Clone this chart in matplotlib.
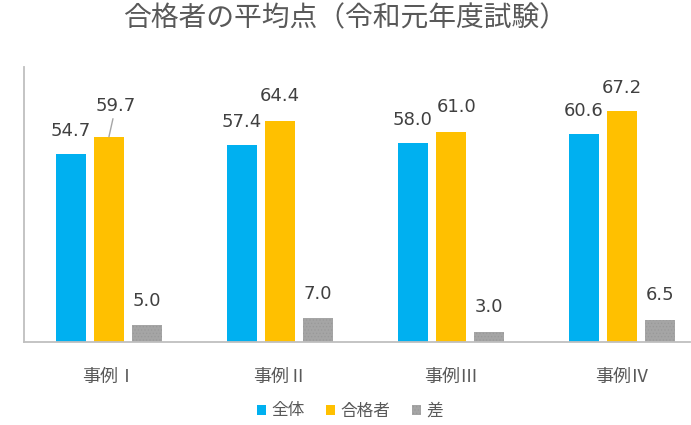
import matplotlib.pyplot as plt
import numpy as np
from matplotlib.patches import Patch

plt.rcParams['font.family'] = ['Noto Sans CJK JP', 'DejaVu Sans']
plt.rcParams['hatch.linewidth'] = 0.5

# データ
categories = ['事例Ⅰ', '事例Ⅱ', '事例Ⅲ', '事例Ⅳ']
series_names = ['全体', '合格者', '差']
zentai = [54.7, 57.4, 58.0, 60.6]
goukaku = [59.7, 64.4, 61.0, 67.2]
sa = [5.0, 7.0, 3.0, 6.5]

colors = ['#00B0F0', '#FFC000', '#A5A5A5']
text_gray = '#595959'
num_gray = '#404040'

fig = plt.figure(figsize=(6.91, 4.25), dpi=100)
ax = fig.add_axes([24 / 691, 83 / 425, 666 / 691, 275 / 425])

x = np.arange(len(categories))
w = 0.175
off = 0.222

b1 = ax.bar(x - off, zentai, w, color=colors[0], linewidth=0)
b2 = ax.bar(x, goukaku, w, color=colors[1], linewidth=0)
b3 = ax.bar(x + off, sa, w, color=colors[2], edgecolor='#999999',
            hatch='.....', linewidth=0)

ax.set_xlim(-0.497, 3.4)
ax.set_ylim(0, 80)

# データラベル
def label(xpos, val, dx=0, dy=10, leader=False):
    kw = dict(textcoords='offset points', ha='center', va='bottom',
              fontsize=13, color=num_gray, family=['DejaVu Sans'])
    if leader:
        kw['arrowprops'] = dict(arrowstyle='-', color='#A6A6A6', lw=1,
                                shrinkA=1, shrinkB=0)
    ax.annotate(f'{val:.1f}', xy=(xpos, val), xytext=(dx, dy), **kw)

for i in range(len(categories)):
    label(x[i] - off, zentai[i])
    label(x[i] + off, sa[i], dy=11)
label(x[0], goukaku[0], dx=5, dy=16, leader=True)
label(x[1], goukaku[1], dy=11)
label(x[2], goukaku[2], dx=4, dy=12)
label(x[3], goukaku[3], dy=10)

for s in ['top', 'right']:
    ax.spines[s].set_visible(False)
for s in ['left', 'bottom']:
    ax.spines[s].set_color('#BFBFBF')
    ax.spines[s].set_linewidth(1.3)
ax.set_yticks([])
ax.set_xticks(x)
ax.set_xticklabels(categories, fontsize=13, color=text_gray)
ax.tick_params(axis='x', length=0, pad=19)

fig.text(0.5, 1 - 18 / 425, '合格者の平均点（令和元年度試験）', ha='center',
         va='center', fontsize=20, color=text_gray)

handles = [Patch(facecolor=colors[0]), Patch(facecolor=colors[1]),
           Patch(facecolor=colors[2], edgecolor='#999999', hatch='.....', linewidth=0)]
fig.legend(handles, series_names, loc='center', bbox_to_anchor=(350 / 691, 1 - 411 / 425),
           ncol=3, frameon=False, fontsize=12, labelcolor=text_gray,
           handlelength=0.55, handleheight=0.55, handletextpad=0.3, columnspacing=1.3)

fig.savefig('out.png', dpi=100)
